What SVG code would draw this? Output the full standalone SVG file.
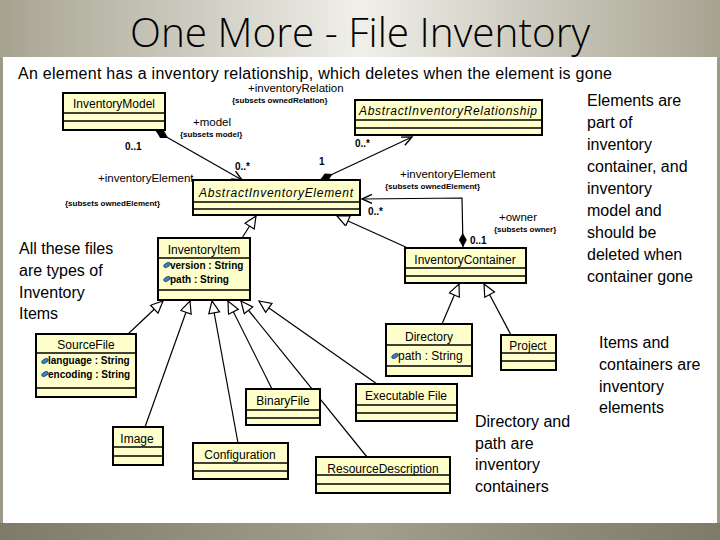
<svg xmlns="http://www.w3.org/2000/svg" width="720" height="540" viewBox="0 0 720 540">
<defs>
<linearGradient id="topg" x1="0" y1="0" x2="1" y2="0">
<stop offset="0" stop-color="#a6a391"/>
<stop offset="0.5" stop-color="#f0efe9"/>
<stop offset="1" stop-color="#a6a391"/>
</linearGradient>
<linearGradient id="botg" x1="0" y1="0" x2="1" y2="0">
<stop offset="0" stop-color="#7e7b6b"/>
<stop offset="0.5" stop-color="#a29f8f"/>
<stop offset="1" stop-color="#7e7b6b"/>
</linearGradient>
<marker id="tri" markerUnits="userSpaceOnUse" markerWidth="16" markerHeight="14" refX="13" refY="6" orient="auto">
<path d="M1,0.5 L13,6 L1,11.5 Z" fill="#fff" stroke="#000" stroke-width="1.2"/>
</marker>
<marker id="open" markerUnits="userSpaceOnUse" markerWidth="14" markerHeight="12" refX="11" refY="5" orient="auto">
<path d="M1,0.5 L11,5 L1,9.5" fill="none" stroke="#000" stroke-width="1.4"/>
</marker>
<marker id="dia" markerUnits="userSpaceOnUse" markerWidth="16" markerHeight="10" refX="0" refY="4.5" orient="auto">
<path d="M0,4.5 L7,0.5 L14,4.5 L7,8.5 Z" fill="#000"/>
</marker>
<g id="icon"><ellipse cx="0" cy="0" rx="3.6" ry="2" transform="rotate(-30)" fill="#3d7fc4" stroke="#1b3d66" stroke-width="0.7"/></g>
</defs>
<style>
.box{fill:#ffffcc;stroke:#000;stroke-width:2}
.sep{stroke:#000;stroke-width:1.5}
.nm{font-family:"Liberation Sans",Arial,sans-serif;font-size:12px;text-anchor:middle;fill:#000}
.it{font-style:italic}
.attr{font-family:"Liberation Sans",Arial,sans-serif;font-size:10px;font-weight:bold;fill:#000}
.lbl{font-family:"Liberation Sans",Arial,sans-serif;font-size:11.5px;fill:#000}
.sub{font-family:"Liberation Sans",Arial,sans-serif;font-size:8px;font-weight:bold;fill:#000}
.mult{font-family:"Liberation Sans",Arial,sans-serif;font-size:10px;font-weight:bold;fill:#000}
.note{font-family:"Liberation Sans",Arial,sans-serif;font-size:16px;fill:#000}
.conn{stroke:#000;stroke-width:1.2;fill:none}
.gen{marker-end:url(#tri)}
</style>
<rect x="0" y="0" width="720" height="540" fill="#9c9987"/>
<rect x="0" y="0" width="720" height="58" fill="url(#topg)"/>
<rect x="0" y="523" width="720" height="17" fill="url(#botg)"/>
<rect x="3" y="57" width="714" height="466" fill="#fff"/>
<text x="130" y="47" font-family="'Open Sans','Liberation Sans',Arial,sans-serif" font-weight="300" font-size="40" textLength="460" lengthAdjust="spacingAndGlyphs" fill="#000">One More - File Inventory</text>
<text x="18" y="79" class="note" textLength="594">An element has a inventory relationship, which deletes when the element is gone</text>

<g id="connectors">
<path class="conn" d="M156,131 L242,180" marker-start="url(#dia)" marker-end="url(#open)"/>
<path class="conn" d="M320,180 L412,137" marker-start="url(#dia)" marker-end="url(#open)"/>
<path class="conn" d="M463,247 L462,198 L362,199" marker-start="url(#dia)" marker-end="url(#open)"/>
<path class="conn gen" d="M410,249 L337,216"/>
<path class="conn gen" d="M242,238 L256,216"/>
<path class="conn gen" d="M442,324 L459,284"/>
<path class="conn gen" d="M511,335 L484,284"/>
<path class="conn gen" d="M128,334 L163,301"/>
<path class="conn gen" d="M145,427 L190,301"/>
<path class="conn gen" d="M238,443 L212,301"/>
<path class="conn gen" d="M272,389 L228,301"/>
<path class="conn gen" d="M367,457 L241,301"/>
<path class="conn gen" d="M377,384 L259,301"/>
<text x="248" y="92" class="lbl">+inventoryRelation</text>
<text x="232" y="103" class="sub">{subsets ownedRelation}</text>
<text x="193" y="126" class="lbl">+model</text>
<text x="180" y="137" class="sub">{subsets model}</text>
<text x="125" y="150" class="mult">0..1</text>
<text x="235" y="170" class="mult">0..*</text>
<text x="319" y="165" class="mult">1</text>
<text x="355" y="147" class="mult">0..*</text>
<text x="98" y="182" class="lbl">+inventoryElement</text>
<text x="65" y="206" class="sub">{subsets ownedElement}</text>
<text x="400" y="178" class="lbl">+inventoryElement</text>
<text x="385" y="189" class="sub">{subsets ownedElement}</text>
<text x="368" y="215" class="mult">0..*</text>
<text x="499" y="221" class="lbl">+owner</text>
<text x="494" y="232" class="sub">{subsets owner}</text>
<text x="470" y="244" class="mult">0..1</text>
</g>

<g id="InventoryModel">
<rect class="box" x="63" y="93" width="102" height="37"/>
<line class="sep" x1="63" y1="113" x2="165" y2="113"/><line class="sep" x1="63" y1="121" x2="165" y2="121"/>
<text class="nm" x="114" y="108">InventoryModel</text>
</g>
<g id="AbstractInventoryRelationship">
<rect class="box" x="355" y="100" width="187" height="35"/>
<line class="sep" x1="355" y1="120" x2="542" y2="120"/><line class="sep" x1="355" y1="128" x2="542" y2="128"/>
<text class="nm it" x="448" y="115" textLength="178">AbstractInventoryRelationship</text>
</g>
<g id="AbstractInventoryElement">
<rect class="box" x="193" y="180" width="167" height="35"/>
<line class="sep" x1="193" y1="202" x2="360" y2="202"/><line class="sep" x1="193" y1="209" x2="360" y2="209"/>
<text class="nm it" x="276" y="197" textLength="154">AbstractInventoryElement</text>
</g>
<g id="InventoryItem">
<rect class="box" x="158" y="238" width="92" height="62"/>
<line class="sep" x1="158" y1="258" x2="250" y2="258"/><line class="sep" x1="158" y1="290" x2="250" y2="290"/>
<text class="nm" x="204" y="254">InventoryItem</text>
<use href="#icon" x="167" y="265"/><text class="attr" x="170" y="269">version : String</text>
<use href="#icon" x="167" y="279"/><text class="attr" x="170" y="283">path : String</text>
</g>
<g id="InventoryContainer">
<rect class="box" x="405" y="248" width="121" height="35"/>
<line class="sep" x1="405" y1="268" x2="526" y2="268"/><line class="sep" x1="405" y1="276" x2="526" y2="276"/>
<text class="nm" x="465" y="264">InventoryContainer</text>
</g>
<g id="Directory">
<rect class="box" x="386" y="324" width="86" height="52"/>
<line class="sep" x1="386" y1="345" x2="472" y2="345"/><line class="sep" x1="386" y1="366" x2="472" y2="366"/>
<text class="nm" x="429" y="341">Directory</text>
<use href="#icon" x="395" y="356"/><text class="lbl" x="398" y="360" style="font-size:12px">path : String</text>
</g>
<g id="Project">
<rect class="box" x="501" y="335" width="55" height="35"/>
<line class="sep" x1="501" y1="353" x2="556" y2="353"/><line class="sep" x1="501" y1="361" x2="556" y2="361"/>
<text class="nm" x="528" y="350">Project</text>
</g>
<g id="SourceFile">
<rect class="box" x="36" y="334" width="100" height="63"/>
<line class="sep" x1="36" y1="353" x2="136" y2="353"/><line class="sep" x1="36" y1="388" x2="136" y2="388"/>
<text class="nm" x="86" y="349">SourceFile</text>
<use href="#icon" x="45" y="361"/><text class="attr" x="48" y="364">language : String</text>
<use href="#icon" x="45" y="374"/><text class="attr" x="48" y="378">encoding : String</text>
</g>
<g id="BinaryFile">
<rect class="box" x="246" y="389" width="74" height="36"/>
<line class="sep" x1="246" y1="410" x2="320" y2="410"/><line class="sep" x1="246" y1="418" x2="320" y2="418"/>
<text class="nm" x="283" y="405">BinaryFile</text>
</g>
<g id="ExecutableFile">
<rect class="box" x="356" y="384" width="101" height="37"/>
<line class="sep" x1="356" y1="405" x2="457" y2="405"/><line class="sep" x1="356" y1="413" x2="457" y2="413"/>
<text class="nm" x="406" y="400">Executable File</text>
</g>
<g id="Image">
<rect class="box" x="113" y="427" width="50" height="38"/>
<line class="sep" x1="113" y1="447" x2="163" y2="447"/><line class="sep" x1="113" y1="456" x2="163" y2="456"/>
<text class="nm" x="137" y="443">Image</text>
</g>
<g id="Configuration">
<rect class="box" x="193" y="443" width="95" height="36"/>
<line class="sep" x1="193" y1="463" x2="288" y2="463"/><line class="sep" x1="193" y1="471" x2="288" y2="471"/>
<text class="nm" x="240" y="459">Configuration</text>
</g>
<g id="ResourceDescription">
<rect class="box" x="316" y="457" width="134" height="36"/>
<line class="sep" x1="316" y1="475" x2="450" y2="475"/><line class="sep" x1="316" y1="484" x2="450" y2="484"/>
<text class="nm" x="383" y="473">ResourceDescription</text>
</g>

<g id="notes">
<text class="note"><tspan x="19" y="254">All these files</tspan><tspan x="19" y="276">are types of</tspan><tspan x="19" y="298">Inventory</tspan><tspan x="19" y="319">Items</tspan></text>
<text class="note"><tspan x="587" y="106">Elements are</tspan><tspan x="587" y="128">part of</tspan><tspan x="587" y="150">inventory</tspan><tspan x="587" y="172">container, and</tspan><tspan x="587" y="194">inventory</tspan><tspan x="587" y="216">model  and</tspan><tspan x="587" y="238">should be</tspan><tspan x="587" y="260">deleted when</tspan><tspan x="587" y="282">container gone</tspan></text>
<text class="note"><tspan x="599" y="348">Items and</tspan><tspan x="599" y="370">containers are</tspan><tspan x="599" y="392">inventory</tspan><tspan x="599" y="413">elements</tspan></text>
<text class="note"><tspan x="475" y="427">Directory and</tspan><tspan x="475" y="449">path are</tspan><tspan x="475" y="470">inventory</tspan><tspan x="475" y="492">containers</tspan></text>
</g>
</svg>
